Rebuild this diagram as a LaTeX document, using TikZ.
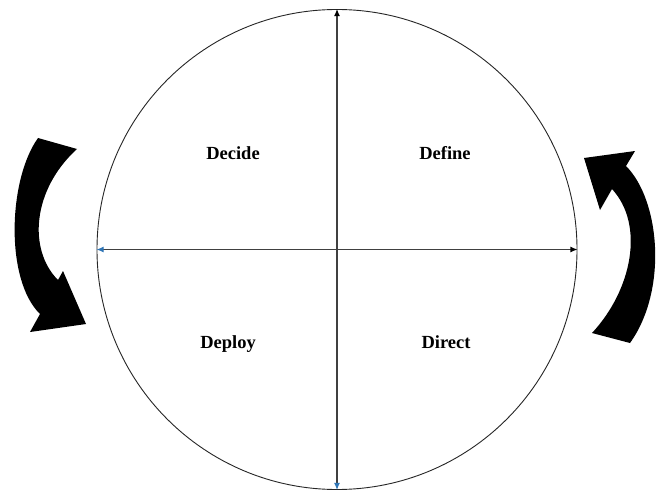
\documentclass[tikz,border=0pt]{standalone}
\usepackage{fontspec}
\setmainfont{Liberation Serif}
\usetikzlibrary{arrows.meta,positioning}

\definecolor{tipblue}{HTML}{2E75B6}
\definecolor{axisgray}{HTML}{404040}

\begin{document}
\begin{tikzpicture}[
            x=1pt, y=-1pt,
            wheelbox/.style={circle, draw=black!85, line width=0.9pt, minimum size=480pt, inner sep=0pt},
            phase/.style={font=\bfseries\fontsize{18.5}{22}\selectfont, inner sep=0pt, anchor=base},
            axisline/.style={draw=axisgray, line width=1.1pt},
            turn/.style={fill=black, draw=none}
        ]
        \useasboundingbox (0,0) rectangle (661,492);

        % Cerchio
        \node (wheel) [wheelbox] at (337,249.5) {};

        % Fasi
        \node (decide) [phase] at (233,159.5) {Decide};
        \node (define) [phase] at (445,159.5) {Define};
        \node (deploy) [phase] at (228,348) {Deploy};
        \node (direct) [phase] at (446,348) {Direct};

        % Assi
        \draw [axisline, {Latex[length=7pt,width=6pt,color=tipblue]}-{Latex[length=7pt,width=6pt,color=black]}] (wheel.south) -- (wheel.north);
        \draw [axisline, {Latex[length=7pt,width=6pt,color=tipblue]}-{Latex[length=7pt,width=6pt,color=black]}] (wheel.west) -- (wheel.east);

        % Frecce curve
        \fill [turn] (38,138) .. controls (8,180) and (5,280) .. (40,314)
            -- (30,332) -- (86,324) -- (63,271) -- (58,280)
            .. controls (28,250) and (32,190) .. (77,149) -- cycle;
        \fill [turn] (592,333) .. controls (632,290) and (645,225) .. (612,189)
            -- (600,210) -- (584,158) -- (635,151) -- (626,166)
            .. controls (660,200) and (668,290) .. (630,343) -- cycle;

    \end{tikzpicture}
\end{document}
